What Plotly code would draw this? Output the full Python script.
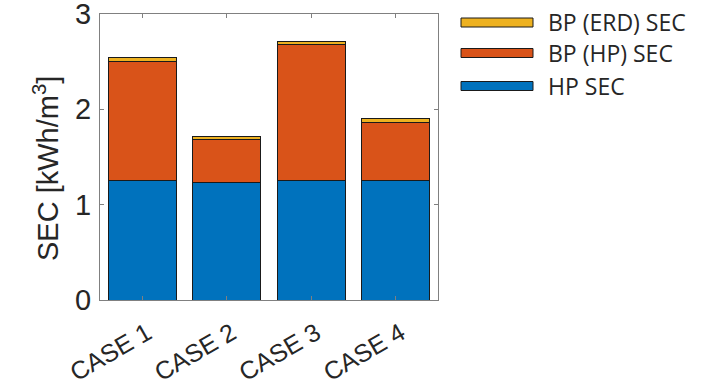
import plotly.graph_objects as go

# Specific energy consumption breakdown per case
cases = ["CASE 1", "CASE 2", "CASE 3", "CASE 4"]
hp_sec = [1.25, 1.23, 1.25, 1.25]
bp_hp_sec = [1.25, 0.45, 1.425, 0.615]
bp_erd_sec = [0.04, 0.03, 0.035, 0.04]

series_names = ["HP SEC", "BP (HP) SEC", "BP (ERD) SEC"]
series_values = [hp_sec, bp_hp_sec, bp_erd_sec]
colors = ["#0072BD", "#D95319", "#EDB120"]

W, H = 719, 386
ML, MR, MT, MB = 100, 281, 14, 86
AXFONT = "Liberation Sans, Arial, sans-serif"
LEGFONT = "Open Sans, Noto Sans, sans-serif"
TXT = "#262626"

fig = go.Figure()
for name, vals, col in zip(series_names, series_values, colors):
    fig.add_trace(go.Bar(
        x=cases, y=vals, name=name, marker_color=col,
        marker_line=dict(color="#1a1a1a", width=1),
        showlegend=False,
    ))

# Plot-area pixel helpers for the hand-drawn legend and the axis title
pw, ph = W - ML - MR, H - MT - MB
def px_x(px):
    return (px - ML) / pw
def px_y(py):
    return (H - MB - py) / ph

legend_rows = [("BP (ERD) SEC", colors[2], 22.5),
               ("BP (HP) SEC", colors[1], 53),
               ("HP SEC", colors[0], 86)]
shapes, annotations = [], []
for label, col, yc in legend_rows:
    shapes.append(dict(type="rect", xref="paper", yref="paper",
                       x0=px_x(461), x1=px_x(533), y0=px_y(yc + 4.5), y1=px_y(yc - 4.5),
                       fillcolor=col, line=dict(color="#1a1a1a", width=1)))
    annotations.append(dict(xref="paper", yref="paper", x=px_x(546), y=px_y(yc),
                            text=label, showarrow=False, xanchor="left", yanchor="middle",
                            font=dict(size=23, color=TXT, family=LEGFONT)))

# Y-axis title
annotations.append(dict(xref="paper", yref="paper", x=px_x(46), y=px_y(168),
                        text="SEC [kWh/m<sup>3</sup>]", textangle=-90, showarrow=False,
                        xanchor="center", yanchor="middle",
                        font=dict(size=29, color=TXT, family=AXFONT)))

fig.update_layout(
    barmode="stack",
    bargap=0.2,
    width=W, height=H,
    margin=dict(l=ML, r=MR, t=MT, b=MB, pad=0, autoexpand=False),
    paper_bgcolor="white", plot_bgcolor="white",
    font=dict(family=AXFONT, color=TXT),
    shapes=shapes, annotations=annotations,
    xaxis=dict(
        tickangle=-30, tickfont=dict(size=25, color=TXT, family=AXFONT),
        ticklabelstandoff=8, ticklabelshift=5, automargin=False,
        showline=True, linecolor="#808080", linewidth=1, mirror="ticks",
        ticks="inside", ticklen=4, tickcolor="#808080",
        showgrid=False, range=[-0.5, 3.5],
    ),
    yaxis=dict(
        range=[0, 3], tickvals=[0, 1, 2, 3], tickfont=dict(size=29, color=TXT, family=AXFONT),
        ticklabeloverflow="allow", automargin=False, ticklabelstandoff=2,
        showline=True, linecolor="#808080", linewidth=1, mirror="ticks",
        ticks="inside", ticklen=4, tickcolor="#808080",
        showgrid=False, zeroline=False,
    ),
)

fig.write_html("out.html")
